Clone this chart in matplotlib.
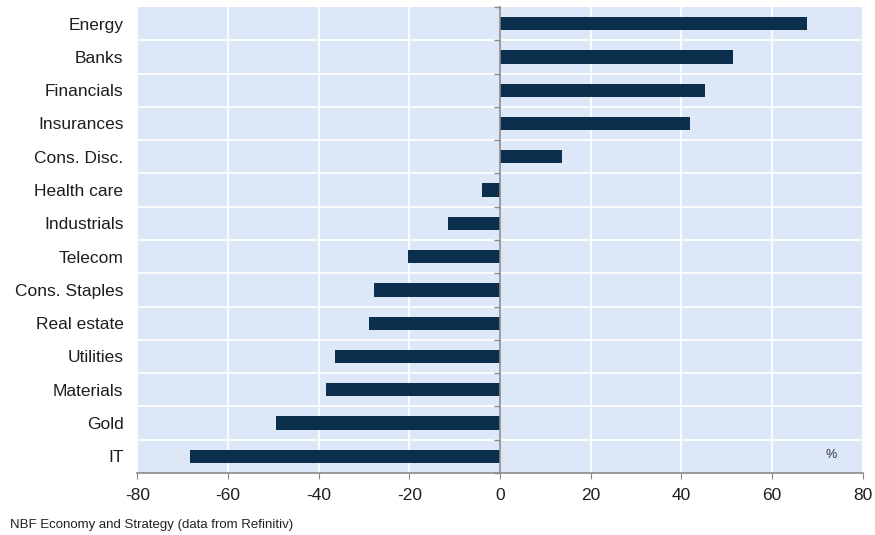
import numpy as np
import matplotlib
matplotlib.use("Agg")
import matplotlib.pyplot as plt

# data (% change)
sectors = ["Energy", "Banks", "Financials", "Insurances", "Cons. Disc.",
           "Health care", "Industrials", "Telecom", "Cons. Staples",
           "Real estate", "Utilities", "Materials", "Gold", "IT"]
values = [67.7, 51.4, 45.1, 41.8, 13.6, -3.9, -11.4, -20.4, -27.7,
          -28.8, -36.5, -38.5, -49.4, -68.3]
xticks = [-80, -60, -40, -20, 0, 20, 40, 60, 80]

BG = "#dce8f7"
BAR = "#0c2f4d"
AXIS = "#8a8a8a"

plt.rcParams['font.family'] = ['Liberation Sans', 'DejaVu Sans']
plt.rcParams['axes.unicode_minus'] = False

fig = plt.figure(figsize=(8.75, 5.35), dpi=100)
ax = fig.add_axes([0.157, 0.116, 0.829, 0.871])
ax.set_facecolor(BG)

ypos = np.arange(len(sectors))
ax.barh(ypos, values, height=0.4, color=BAR, zorder=3)

ax.set_xlim(-80, 80)
ax.set_ylim(len(sectors) - 0.5, -0.5)
ax.set_xticks(xticks)
ax.set_yticks(ypos)
ax.set_yticklabels(sectors, fontsize=12.5, color="#1e1e1e")
ax.tick_params(axis="y", length=0, pad=10)
ax.tick_params(axis="x", direction="out", length=4, color=AXIS,
               labelsize=12.5, labelcolor="#1e1e1e", pad=7)

# grid: white verticals at ticks, white horizontals between categories
bounds = np.arange(len(sectors) + 1) - 0.5
ax.set_yticks(bounds[1:-1], minor=True)
ax.tick_params(axis="y", which="minor", length=0)
ax.grid(axis="x", which="major", color="white", linewidth=1.2, zorder=1)
ax.grid(axis="y", which="minor", color="white", linewidth=1.2, zorder=1)
ax.set_axisbelow(True)

for s in ["top", "right", "left"]:
    ax.spines[s].set_visible(False)
ax.spines["bottom"].set_color(AXIS)
ax.spines["bottom"].set_linewidth(1.2)

# vertical axis line through zero with small ticks at the category bounds
sec = ax.secondary_yaxis(0.5)
sec.set_zorder(4)
sec.set_yticks(bounds)
sec.set_yticklabels([])
sec.yaxis.set_ticks_position("left")
sec.tick_params(direction="out", length=4, width=1, color=AXIS)
for s in sec.spines.values():
    s.set_color(AXIS)
    s.set_linewidth(1.2)

ax.text(0.956, 0.025, "%", transform=ax.transAxes, fontsize=9,
        color="#333333", ha="center", va="bottom")

fig.text(0.012, 0.008, "NBF Economy and Strategy (data from Refinitiv)",
         fontsize=9.5, color="#222222", ha="left", va="bottom")

fig.savefig("out.png", dpi=100)
